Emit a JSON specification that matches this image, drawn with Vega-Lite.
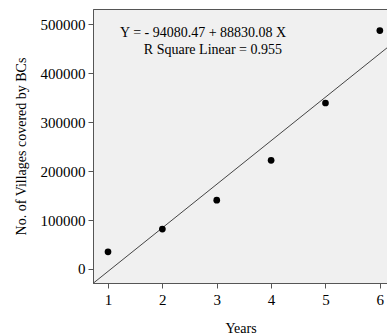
{
  "$schema": "https://vega.github.io/schema/vega-lite/v6.json",
  "autosize": "none",
  "padding": {"left": 93, "top": 9, "right": 0, "bottom": 52},
  "width": 295,
  "height": 274,
  "config": {
    "font": "Liberation Serif",
    "view": {"fill": "#f0f0f0", "stroke": "#555555", "strokeWidth": 1},
    "axis": {
      "labelFont": "Liberation Serif", "titleFont": "Liberation Serif",
      "labelFontSize": 15, "titleFontSize": 14, "titleFontWeight": "normal",
      "labelColor": "#000000", "titleColor": "#000000",
      "domainColor": "#555555", "tickColor": "#555555", "tickSize": 5,
      "grid": false, "format": "d"
    }
  },
  "datasets": {
    "pts": [
      {"Years": 1, "Villages": 35000},
      {"Years": 2, "Villages": 81600},
      {"Years": 3, "Villages": 140500},
      {"Years": 4, "Villages": 222000},
      {"Years": 5, "Villages": 339000},
      {"Years": 6, "Villages": 487000}
    ],
    "notes": [
      {"label": "Y = - 94080.47 + 88830.08 X", "tx": 2.75, "ty": 482000},
      {"label": "R Square Linear = 0.955", "tx": 2.93, "ty": 447000}
    ]
  },
  "layer": [
    {
      "data": {"name": "pts"},
      "transform": [{"regression": "Villages", "on": "Years", "extent": [0.724, 6.15]}],
      "mark": {"type": "line", "color": "#444444", "strokeWidth": 1, "clip": true},
      "encoding": {
        "x": {"field": "Years", "type": "quantitative"},
        "y": {"field": "Villages", "type": "quantitative"}
      }
    },
    {
      "data": {"name": "pts"},
      "mark": {"type": "circle", "color": "#000000", "opacity": 1, "size": 45},
      "encoding": {
        "x": {"field": "Years", "type": "quantitative",
              "scale": {"domain": [0.724, 6.15], "nice": false, "zero": false},
              "axis": {"values": [1, 2, 3, 4, 5, 6], "format": "d", "title": "Years", "titlePadding": 14, "labelPadding": 4}},
        "y": {"field": "Villages", "type": "quantitative",
              "scale": {"domain": [-28600, 531000], "nice": false, "zero": false},
              "axis": {"values": [0, 100000, 200000, 300000, 400000, 500000], "format": "d", "title": "No. of Villages covered by BCs", "titlePadding": 12, "labelPadding": 3}}
      }
    },
    {
      "data": {"name": "notes"},
      "mark": {"type": "text", "fontSize": 14, "color": "#000000", "align": "center", "baseline": "middle"},
      "encoding": {
        "x": {"field": "tx", "type": "quantitative"},
        "y": {"field": "ty", "type": "quantitative"},
        "text": {"field": "label"}
      }
    }
  ]
}
